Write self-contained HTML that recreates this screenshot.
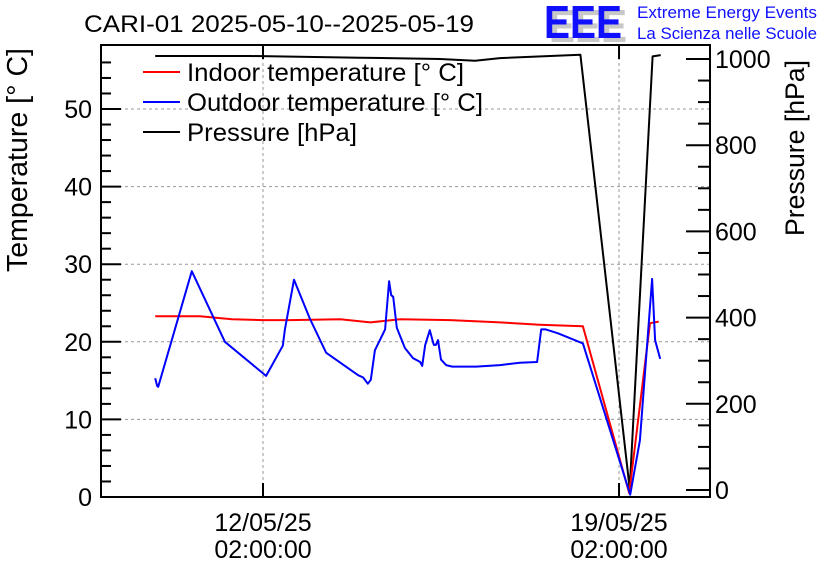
<!DOCTYPE html>
<html><head><meta charset="utf-8"><style>
html,body{margin:0;padding:0;background:#fff;}
svg{display:block;font-family:"Liberation Sans",Arial,sans-serif;}
</style></head><body>
<svg id="chart" width="836" height="572" viewBox="0 0 836 572">
<rect width="836" height="572" fill="#fff"/>
<text x="84" y="32" font-size="24" textLength="390" lengthAdjust="spacingAndGlyphs">CARI-01 2025-05-10--2025-05-19</text>
<g>
<text x="549" y="42" font-size="46" font-weight="bold" fill="#c8c8c8" textLength="78" lengthAdjust="spacingAndGlyphs">EEE</text>
<text x="544" y="38" font-size="46" font-weight="bold" fill="#1010ff" textLength="78" lengthAdjust="spacingAndGlyphs">EEE</text>
<text x="637" y="18" font-size="17" fill="#1010ff" textLength="180" lengthAdjust="spacingAndGlyphs">Extreme Energy Events</text>
<text x="637" y="39" font-size="17" fill="#1010ff" textLength="180" lengthAdjust="spacingAndGlyphs">La Scienza nelle Scuole</text>
</g>
<g id="grid"></g>
<g id="axes"></g>
<g id="series"></g>
<g>
<line x1="143" y1="72" x2="180" y2="72" stroke="#f00" stroke-width="2"/>
<text x="187" y="81" font-size="25" textLength="277" lengthAdjust="spacingAndGlyphs">Indoor temperature [° C]</text>
<line x1="143" y1="102" x2="180" y2="102" stroke="#00f" stroke-width="2"/>
<text x="187" y="111" font-size="25" textLength="296" lengthAdjust="spacingAndGlyphs">Outdoor temperature [° C]</text>
<line x1="143" y1="132" x2="180" y2="132" stroke="#000" stroke-width="2"/>
<text x="187" y="141" font-size="25" textLength="170" lengthAdjust="spacingAndGlyphs">Pressure [hPa]</text>
</g>
<text transform="translate(27,160) rotate(-90)" text-anchor="middle" font-size="29" textLength="224" lengthAdjust="spacingAndGlyphs">Temperature [° C]</text>
<text transform="translate(804,148) rotate(-90)" text-anchor="middle" font-size="27" textLength="176" lengthAdjust="spacingAndGlyphs">Pressure [hPa]</text>
</svg>
<script>
// days relative to 12/05/25 02:00
const tempTicks=[0,10,20,30,40,50];
const presTicks=[0,200,400,600,800,1000];
const xTickDays=[0,7];
const xTickLabels=[["12/05/25","02:00:00"],["19/05/25","02:00:00"]];
const outdoorT=[-2.12,-2.08,-2.06,-1.40,-0.75,0.06,0.39,0.43,0.61,0.92,1.24,1.87,1.97,2.06,2.12,2.20,2.40,2.48,2.52,2.56,2.63,2.79,2.95,3.09,3.13,3.19,3.28,3.34,3.36,3.40,3.44,3.50,3.60,3.72,4.19,4.66,5.05,5.39,5.47,5.56,5.80,6.29,7.22,7.41,7.65,7.71,7.81];
const outdoorV=[15.3,14.3,14.2,29.1,20.0,15.6,19.5,21.6,28.0,23.0,18.6,15.7,15.4,14.6,15.1,18.9,21.6,27.8,26.0,25.8,21.8,19.2,17.9,17.4,16.9,19.6,21.5,20.0,19.6,19.6,20.2,17.7,17.0,16.8,16.8,17.0,17.3,17.4,21.6,21.6,21.1,19.8,0.3,7.3,28.1,20.2,17.8];
const indoorT=[-2.12,-1.24,-0.61,-0.02,0.53,1.52,2.11,2.70,3.68,4.66,5.44,6.29,7.20,7.61,7.78];
const indoorV=[23.3,23.3,22.9,22.8,22.8,22.9,22.5,22.9,22.8,22.5,22.2,22.0,0.5,22.4,22.6];
const presT=[-2.12,-0.25,1.91,3.48,4.17,4.66,6.24,7.21,7.66,7.82];
const presV=[1007,1007,1003,1000,996,1002,1010,3,1006,1009];
const X0=101,X1=710,Y0=497,Y1=45;
const xOf=d=>263+d*50.86;
const yT=v=>Y0-v*7.76;
const yP=v=>490-v*0.431;
const NS="http://www.w3.org/2000/svg";
function mk(tag,attrs,parent){const e=document.createElementNS(NS,tag);for(const k in attrs)e.setAttribute(k,attrs[k]);parent.appendChild(e);return e;}
const grid=document.getElementById('grid'),axes=document.getElementById('axes'),series=document.getElementById('series');
tempTicks.forEach(v=>{if(v>0){const l=mk('line',{x1:X0,x2:X1,y1:yT(v),y2:yT(v),stroke:'#999','stroke-dasharray':'3,3','stroke-width':1},grid);

}});
xTickDays.forEach(d=>{const l=mk('line',{x1:xOf(d),x2:xOf(d),y1:Y1,y2:Y0,stroke:'#999','stroke-dasharray':'3,3','stroke-width':1},grid);

});
const fr=mk('rect',{x:X0,y:Y1,width:X1-X0,height:Y0-Y1,fill:'none',stroke:'#000','stroke-width':2},axes);


for(let v=0;v<=56;v+=2){const major=v%10===0;const len=major?20:10;
mk('line',{x1:X0,x2:X0+len,y1:yT(v),y2:yT(v),stroke:'#000','stroke-width':2},axes);}
tempTicks.forEach(v=>{const t=mk('text',{x:X0-9,y:yT(v)+9,'text-anchor':'end','font-size':25},axes);t.textContent=v;

});
for(let v=0;v<=1050;v+=50){if(yP(v)<Y1)break;const major=v%200===0;const len=major?24:12;
mk('line',{x1:X1-len,x2:X1,y1:yP(v),y2:yP(v),stroke:'#000','stroke-width':2},axes);}
presTicks.forEach(v=>{const t=mk('text',{x:X1+5,y:yP(v)+9,'font-size':25},axes);t.textContent=v;

});
xTickDays.forEach((d,i)=>{mk('line',{x1:xOf(d),x2:xOf(d),y1:Y0,y2:Y0-14,stroke:'#000','stroke-width':2},axes);
mk('line',{x1:xOf(d),x2:xOf(d),y1:Y1,y2:Y1+14,stroke:'#000','stroke-width':2},axes);
xTickLabels[i].forEach((s,j)=>{const t=mk('text',{x:xOf(d),y:531+j*27,'text-anchor':'middle','font-size':25},axes);t.textContent=s;

});});
function line(ts,vs,yf,color,name){const pts=ts.map((t,i)=>xOf(t).toFixed(1)+','+yf(vs[i]).toFixed(1)).join(' ');
const p=mk('polyline',{points:pts,fill:'none',stroke:color,'stroke-width':2,'stroke-linejoin':'round'},series);

}
line(presT,presV,yP,'#000','pressure-line');
line(indoorT,indoorV,yT,'#f00','indoor-temperature-line');
line(outdoorT,outdoorV,yT,'#00f','outdoor-temperature-line');
</script>
</body></html>
